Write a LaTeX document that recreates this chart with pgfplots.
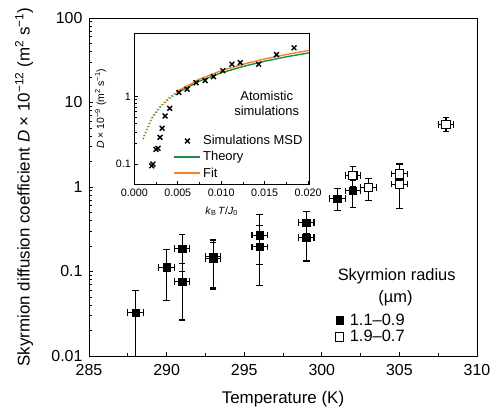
\documentclass[border=0pt]{standalone}
\usepackage{fontspec}
\setmainfont{Liberation Sans}
\usepackage{pgfplots}
\pgfplotsset{compat=1.18}
\definecolor{thgreen}{RGB}{28,140,72}
\definecolor{fitorange}{RGB}{247,130,38}

\begin{document}
\begin{tikzpicture}
\path[use as bounding box] (-89bp,-54bp) rectangle (408bp,356bp);

% main plot
\begin{axis}[
  at={(0,0)}, anchor=south west,
  scale only axis, width=388bp, height=338bp,
  xmin=285, xmax=310, ymode=log, ymin=0.01, ymax=100,
  xtick={285,290,295,300,305,310}, minor x tick num=1,
  ytick={0.01,0.1,1,10,100}, yticklabels={0.01,0.1,1,10,100},
  xtick pos=bottom, ytick pos=left, tick align=inside,
  major tick length=4.5bp, minor tick length=3bp,
  every tick/.style={black, line width=0.8pt},
  axis line style={line width=0.9pt},
  tick label style={font=\fontsize{16}{18}\selectfont},
  /pgf/number format/assume math mode=true,
  /pgf/number format/1000 sep={},
  xticklabel style={yshift=-5bp},
  yticklabel style={xshift=-3bp},
  xlabel={Temperature (K)},
  xlabel style={font=\fontsize{17}{19}\selectfont, at={(axis description cs:0.5,-0.093)}, anchor=north},
  ylabel={Skyrmion diffusion coefficient \textit{D} × 10\textsuperscript{−12} (m\textsuperscript{2} s\textsuperscript{−1})},
  ylabel style={font=\fontsize{17}{19}\selectfont, at={(axis description cs:-0.135,0.5)}, anchor=south},
  legend style={draw=none, fill=none, at={(0.627,0.138)}, anchor=north west,
    font=\fontsize{16.5}{18}\selectfont, row sep=0bp,
    /tikz/every odd column/.append style={column sep=4bp}},
  legend cell align=left,
  legend image code/.code={\draw[mark repeat=2,mark phase=2,#1] plot coordinates {(0bp,0bp)(5bp,0bp)(10bp,0bp)};},
]
\addplot[black, only marks, mark=square*, mark size=3.8bp,
  error bars/.cd, x dir=both, x explicit, y dir=both, y explicit,
  error bar style={line width=1.1pt},
  error mark options={rotate=90, line width=1.1pt, mark size=3.3bp}]
  table[x=x, y=y, x error=ex, y error plus=ep, y error minus=em] {
x   y      ex  ep     em
288 0.0325 0.5 0.0275 0.0285
290 0.112  0.5 0.068  0.067
291 0.186  0.5 0.089  0.086
291 0.0757 0.5 0.049  0.049
293 0.143  0.5 0.093  0.081
293 0.150  0.5 0.070  0.085
296 0.270  0.5 0.197  0.150
296 0.196  0.5 0.150  0.127
299 0.378  0.5 0.132  0.100
299 0.251  0.5 0.120  0.118
301 0.73   0.5 0.22   0.20
302 0.90   0.5 0.30   0.33
};
\addlegendentry{1.1–0.9}
\addplot[black, only marks, mark=square*, mark size=4.2bp,
  mark options={fill=white, draw=black, line width=1.1pt},
  error bars/.cd, x dir=both, x explicit, y dir=both, y explicit,
  error bar style={line width=1.1pt},
  error mark options={rotate=90, line width=1.1pt, mark size=3.3bp}]
  table[x=x, y=y, x error=ex, y error plus=ep, y error minus=em] {
x   y      ex  ep     em
302 1.36   0.5 0.38   0.36
303 0.99   0.5 0.27   0.29
305 1.43   0.5 0.44   0.40
305 1.08   0.5 0.35   0.52
308 5.52   0.5 1.08   1.02
};
\addlegendentry{1.9–0.7}
\node[font=\fontsize{16.5}{18}\selectfont] at (rel axis cs:0.793,0.236) {Skyrmion radius};
\node[font=\fontsize{16.5}{18}\selectfont] at (rel axis cs:0.790,0.172) {(µm)};
\end{axis}

% inset
\begin{axis}[
  at={(45.3bp,171.7bp)}, anchor=south west,
  scale only axis, width=174.7bp, height=151bp,
  xmin=0, xmax=0.0201, ymode=log, ymin=0.05, ymax=8.7,
  xtick={0,0.005,0.01,0.015,0.02},
  xticklabels={0.000,0.005,0.010,0.015,0.020},
  scaled x ticks=false,
  minor x tick num=1,
  ytick={0.1,1}, yticklabels={0.1,1},
  xtick pos=bottom, ytick pos=left, tick align=inside,
  major tick length=3.5bp, minor tick length=2.5bp,
  every tick/.style={black, line width=0.7pt},
  axis line style={line width=0.8pt},
  tick label style={font=\fontsize{10.8}{12}\selectfont},
  xticklabel style={yshift=-1bp},
  xlabel={\textit{k}\textsubscript{B}\,\textit{T}/\textit{J}\textsubscript{0}},
  xlabel style={font=\fontsize{10.5}{12}\selectfont, at={(axis description cs:0.5,-0.125)}, anchor=north},
  ylabel={\textit{D} × 10\textsuperscript{−9} (m\textsuperscript{2} s\textsuperscript{−1})},
  ylabel style={font=\fontsize{10.5}{12}\selectfont, at={(axis description cs:-0.14,0.5)}, anchor=south},
  legend style={draw=none, fill=none, at={(0.207,0.355)}, anchor=north west,
    font=\fontsize{13}{15}\selectfont, row sep=0bp, nodes={inner ysep=2.6bp}},
  legend cell align=left,
  legend image code/.code={\draw[mark repeat=2,mark phase=2,#1] plot coordinates {(0bp,0bp)(13bp,0bp)(26bp,0bp)};},
]
\addlegendimage{black, only marks, mark=x, mark size=3.4bp, mark options={line width=1.4pt}}
\addlegendentry{Simulations MSD}
\addlegendimage{thgreen, line width=1.5pt}
\addlegendentry{Theory}
\addlegendimage{fitorange, line width=1.5pt}
\addlegendentry{Fit}
\addplot[black, only marks, mark=x, mark size=3.4bp, mark options={line width=1.4pt}, forget plot]
  table {
0.00200 0.094
0.00215 0.100
0.00250 0.165
0.00273 0.171
0.00296 0.249
0.00320 0.339
0.00354 0.516
0.00408 0.67
0.00512 1.15
0.00608 1.29
0.00711 1.61
0.00815 1.73
0.00912 1.98
0.01019 2.43
0.01123 3.03
0.01219 3.20
0.01431 3.03
0.01635 4.20
0.01838 5.30
};
\addplot[thgreen, line width=1.4pt, forget plot] table {
0.0050 1.15
0.0075 1.70
0.0100 2.25
0.0125 2.80
0.0150 3.35
0.0175 3.90
0.0205 4.55
};
\addplot[fitorange, line width=1.4pt, forget plot] table {
0.0050 1.21
0.0075 1.82
0.0100 2.42
0.0125 3.02
0.0150 3.62
0.0175 4.22
0.0205 4.95
};
\addplot[thgreen, line width=1.5pt, dash pattern=on 1.1pt off 2.2pt, forget plot] table {
0.0010 0.235
0.0020 0.47
0.0030 0.70
0.0040 0.93
0.0050 1.15
};
\addplot[fitorange, line width=1.5pt, dash pattern=on 1.1pt off 2.2pt, dash phase=1.6pt, forget plot] table {
0.0010 0.245
0.0020 0.49
0.0030 0.73
0.0040 0.97
0.0050 1.21
};
\node[font=\fontsize{13}{15.5}\selectfont, align=center] at (rel axis cs:0.758,0.536) {Atomistic\\simulations};
\end{axis}
\end{tikzpicture}
\end{document}
